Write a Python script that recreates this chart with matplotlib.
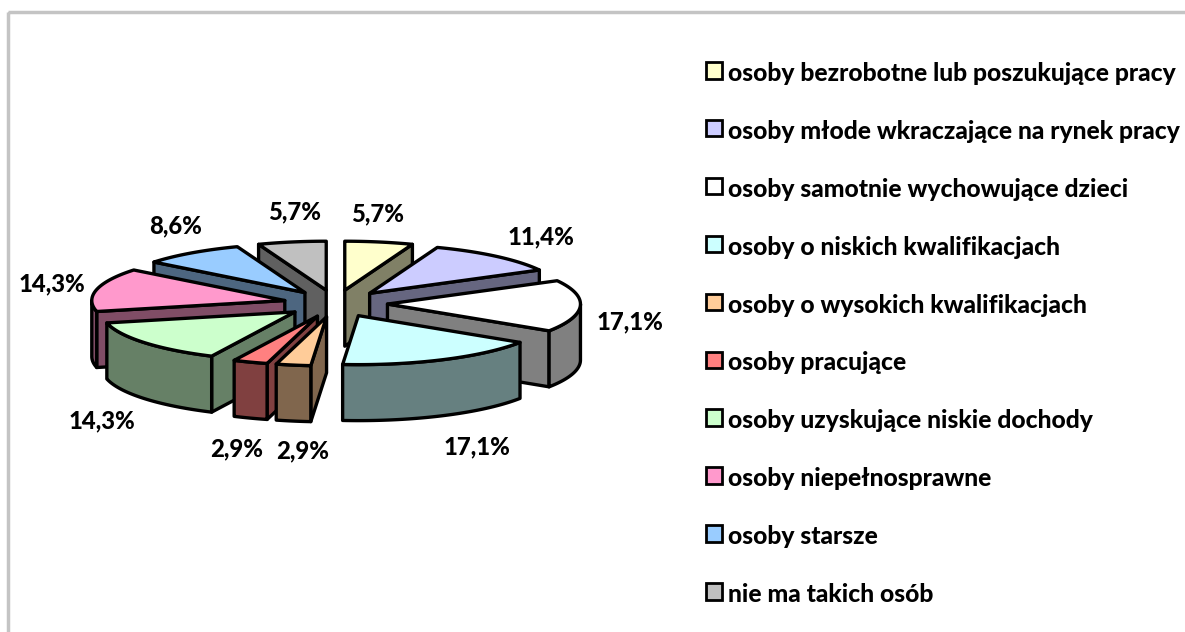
#!/usr/bin/env python
import numpy as np
import matplotlib
matplotlib.use('Agg')
import matplotlib.pyplot as plt
from matplotlib.patches import Polygon, Rectangle

plt.rcParams['font.family'] = ['Lato', 'DejaVu Sans']

categories = ['osoby bezrobotne lub poszukujące pracy',
              'osoby młode wkraczające na rynek pracy',
              'osoby samotnie wychowujące dzieci',
              'osoby o niskich kwalifikacjach',
              'osoby o wysokich kwalifikacjach',
              'osoby pracujące',
              'osoby uzyskujące niskie dochody',
              'osoby niepełnosprawne',
              'osoby starsze',
              'nie ma takich osób']
values = [5.7, 11.4, 17.1, 17.1, 2.9, 2.9, 14.3, 14.3, 8.6, 5.7]
top_colors = ['#FFFFCC', '#CCCCFF', '#FFFFFF', '#CCFFFF', '#FFCC99',
              '#FF8080', '#CCFFCC', '#FF99CC', '#99CCFF', '#C0C0C0']
side_colors = ['#808066', '#666680', '#808080', '#668080', '#80664D',
               '#804040', '#668066', '#804D66', '#4D6680', '#606060']

# where the percent labels sit, in picture pixels
label_pos = [(378, 214), (541, 237), (630, 322), (477, 447), (303, 451),
             (237, 449), (102, 421), (52, 284), (176, 226), (295, 212)]

# pie geometry, pixels
cx, cy = 335.5, 303.5
rx, ry = 193, 49
ex, ey = 52, 13.5
depth = 56
edge_w = 2.4


def rim(a0, a1, ox, oy, dz=0):
    t = np.radians(np.linspace(a0, a1, 60))
    return np.column_stack([ox + rx * np.sin(t), oy - ry * np.cos(t) + dz])


def wall(a, ox, oy):
    t = np.radians(a)
    ex_x, ex_y = ox + rx * np.sin(t), oy - ry * np.cos(t)
    return [(ox, oy), (ex_x, ex_y), (ex_x, ex_y + depth), (ox, oy + depth)]


def draw_slice(ax, a0, a1, top, side):
    mid = np.radians((a0 + a1) / 2)
    ox = cx + ex * np.sin(mid)
    oy = cy - ey * np.cos(mid)
    kw = dict(edgecolor='black', linewidth=edge_w, joinstyle='round')
    # radial walls that face the viewer
    if np.sin(np.radians(a0)) < 0:
        ax.add_patch(Polygon(wall(a0, ox, oy), facecolor=side, **kw))
    if np.sin(np.radians(a1)) > 0:
        ax.add_patch(Polygon(wall(a1, ox, oy), facecolor=side, **kw))
    # outer rim, only the near half shows
    b0, b1 = max(a0, 90), min(a1, 270)
    if b1 > b0:
        upper = rim(b0, b1, ox, oy)
        lower = rim(b0, b1, ox, oy, depth)
        ax.add_patch(Polygon(np.vstack([upper, lower[::-1]]), facecolor=side, **kw))
    # top face
    pts = np.vstack([[(ox, oy)], rim(a0, a1, ox, oy)])
    ax.add_patch(Polygon(pts, facecolor=top, **kw))


def main():
    fig = plt.figure(figsize=(11.85, 6.32), dpi=100)
    ax = fig.add_axes([0, 0, 1, 1])
    ax.set_xlim(0, 1185)
    ax.set_ylim(632, 0)
    ax.axis('off')

    # chart frame
    ax.add_patch(Rectangle((8, 12), 1300, 700, fill=False, edgecolor='#C4C4C4', linewidth=2.5))

    total = sum(values)
    edges = np.concatenate([[0], np.cumsum(values)]) / total * 360
    mids = (edges[:-1] + edges[1:]) / 2
    # back slices first, the front ones paint over them
    order = np.argsort(-np.cos(np.radians(mids)))
    for i in order:
        draw_slice(ax, edges[i], edges[i + 1], top_colors[i], side_colors[i])

    for v, (x, y) in zip(values, label_pos):
        ax.text(x, y, f'{v:.1f}%'.replace('.', ','), ha='center', va='center',
                fontsize=17.2, fontweight='black', color='black')

    # legend
    for i, name in enumerate(categories):
        y = 73.5 + i * 57.9
        ax.add_patch(Rectangle((705.5, y - 11.5), 16.5, 16.5, facecolor=top_colors[i],
                               edgecolor='black', linewidth=2))
        ax.text(728, y, name, ha='left', va='center', fontsize=17.7,
                fontweight='black', color='black')

    fig.savefig('out.png', dpi=100)


if __name__ == '__main__':
    main()
